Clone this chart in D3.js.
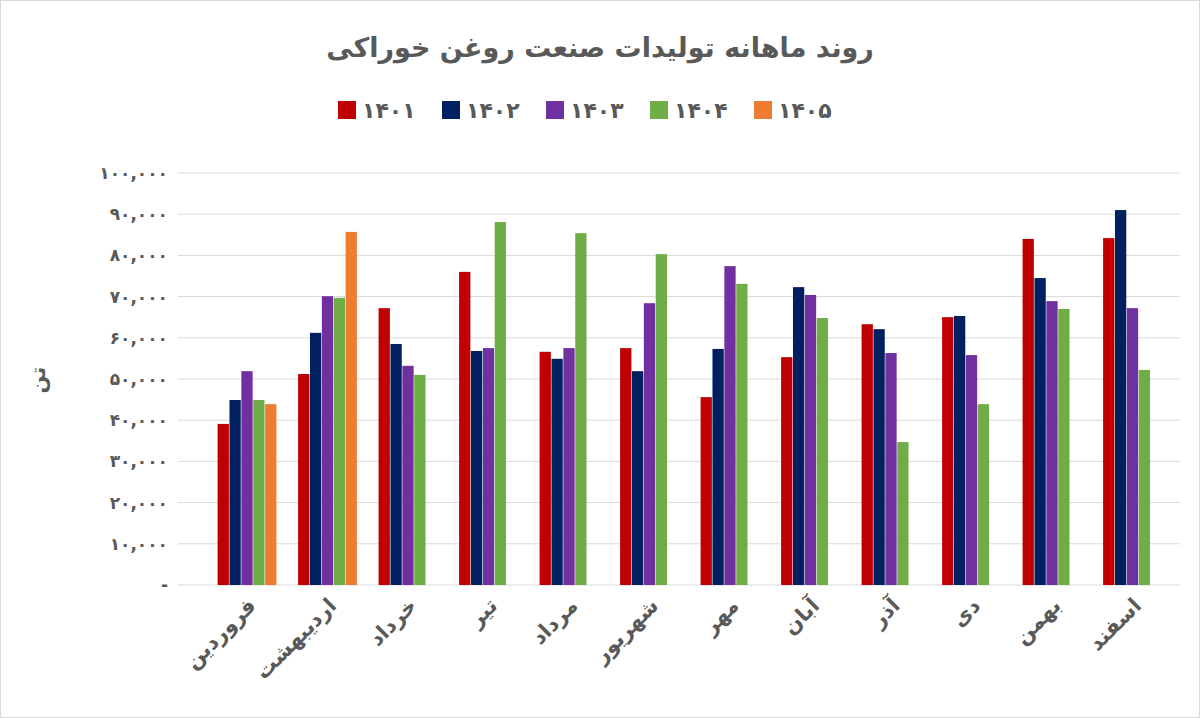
<!DOCTYPE html>
<html><head><meta charset="utf-8">
<script src="https://cdn.jsdelivr.net/npm/d3@7"></script>
<style>body{margin:0;background:#fff}svg{display:block}text{font-family:"DejaVu Sans",sans-serif}</style>
</head><body><svg id="c" width="1200" height="718"></svg>
<script>
const months=["فروردین","اردیبهشت","خرداد","تیر","مرداد","شهریور","مهر","آبان","آذر","دی","بهمن","اسفند"];
const seriesNames=["۱۴۰۱","۱۴۰۲","۱۴۰۳","۱۴۰۴","۱۴۰۵"];
const colors=["#C00000","#002060","#7030A0","#70AD47","#ED7D31"];
const s1401=[39100,51200,67200,76000,56600,57500,45600,55300,63300,65000,84000,84200];
const s1402=[44900,61200,58500,56800,54900,51900,57300,72300,62100,65300,74500,91000];
const s1403=[51900,70100,53200,57500,57500,68400,77400,70400,56300,55800,68900,67200];
const s1404=[44900,69700,51000,88100,85400,80300,73100,64800,34700,43900,67000,52200];
const s1405=[43900,85700,null,null,null,null,null,null,null,null,null,null];
const series=[s1401,s1402,s1403,s1404,s1405];
const yTicks=[0,10000,20000,30000,40000,50000,60000,70000,80000,90000,100000];
const fa=n=>String(n).replace(/\d/g,d=>"۰۱۲۳۴۵۶۷۸۹"[d]);
const fmt=v=>v===0?"-":fa(d3.format(",")(v));

const svg=d3.select("#c");
svg.append("rect").attr("x",0.5).attr("y",0.5).attr("width",1199).attr("height",717).attr("fill","#fff").attr("stroke","#d9d9d9");
const L=178,R=1180,T=173,B=585;
const y=d3.scaleLinear().domain([0,100000]).range([B,T]);
const x=d3.scaleBand().domain(months).range([217,1162.5]).paddingInner(0.2547).paddingOuter(0);
const xs=d3.scaleBand().domain(seriesNames).range([0,x.bandwidth()]).padding(0.05);

svg.append("g").selectAll("line").data(yTicks.slice(1)).join("line")
 .attr("x1",L).attr("x2",R).attr("y1",d=>y(d)).attr("y2",d=>y(d)).attr("stroke","#d9d9d9");
svg.append("line").attr("x1",L).attr("x2",R).attr("y1",B).attr("y2",B).attr("stroke","#d9d9d9");
svg.append("g").selectAll("text").data(yTicks).join("text")
 .attr("x",168).attr("y",d=>y(d)+6).attr("text-anchor","end").attr("font-size",17).attr("font-weight","bold").attr("fill","#595959").text(fmt);

series.forEach((s,i)=>{
 svg.append("g").selectAll("rect").data(months.map((m,j)=>({m,v:s[j]})).filter(d=>d.v!=null)).join("rect")
  .attr("x",d=>x(d.m)+xs(seriesNames[i])).attr("width",xs.bandwidth())
  .attr("y",d=>y(d.v)).attr("height",d=>B-y(d.v)).attr("fill",colors[i]);
});

svg.append("g").selectAll("text").data(months).join("text")
 .attr("transform",d=>`translate(${x(d)+x.bandwidth()/2+10},${B+22}) rotate(-45)`)
 .attr("text-anchor","end").attr("font-size",21).attr("font-weight","bold").attr("fill","#595959").text(d=>d);

svg.append("text").attr("x",600).attr("y",57).attr("text-anchor","middle").attr("font-size",27).attr("font-weight","bold").attr("fill","#595959").text("روند ماهانه تولیدات صنعت روغن خوراکی");
svg.append("text").attr("transform","translate(45,380) rotate(-90)").attr("text-anchor","middle").attr("font-size",21).attr("font-weight","bold").attr("fill","#595959").text("تن");

const lg=svg.append("g");
seriesNames.forEach((n,i)=>{
 const lx=338+i*104;
 lg.append("rect").attr("x",lx).attr("y",101).attr("width",18).attr("height",18).attr("fill",colors[i]);
 lg.append("text").attr("x",lx+24).attr("y",118).attr("font-size",22).attr("font-weight","bold").attr("fill","#595959").text(n);
});
</script></body></html>
